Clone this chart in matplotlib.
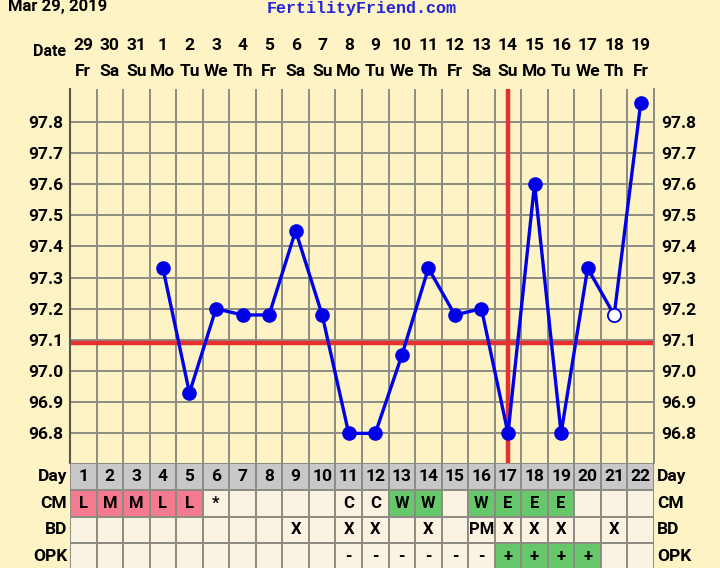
import matplotlib
matplotlib.use("Agg")
import matplotlib.pyplot as plt
from matplotlib.patches import Rectangle
from matplotlib.transforms import blended_transform_factory
import numpy as np

# ---- data ----
dates = [29, 30, 31, 1, 2, 3, 4, 5, 6, 7, 8, 9, 10, 11, 12, 13, 14, 15, 16, 17, 18, 19]
weekdays = ['Fr', 'Sa', 'Su', 'Mo', 'Tu', 'We', 'Th', 'Fr', 'Sa', 'Su', 'Mo',
            'Tu', 'We', 'Th', 'Fr', 'Sa', 'Su', 'Mo', 'Tu', 'We', 'Th', 'Fr']
cycle_days = list(range(1, 23))
temps = [np.nan, np.nan, np.nan, 97.33, 96.93, 97.20, 97.18, 97.18, 97.45, 97.18, 96.80,
         96.80, 97.05, 97.33, 97.18, 97.20, 96.80, 97.60, 96.80, 97.33, 97.18, 97.86]
open_point_day = 21
cm = ['L', 'M', 'M', 'L', 'L', '*', '', '', '', '', 'C', 'C', 'W', 'W', '', 'W', 'E', 'E', 'E', '', '', '']
bd = ['', '', '', '', '', '', '', '', 'X', '', 'X', 'X', '', 'X', '', 'PM', 'X', 'X', 'X', '', 'X', '']
opk = ['', '', '', '', '', '', '', '', '', '', '-', '-', '-', '-', '-', '-', '+', '+', '+', '+', '', '']
coverline = 97.09
ovulation_day = 17
yticks = [96.8, 96.9, 97.0, 97.1, 97.2, 97.3, 97.4, 97.5, 97.6, 97.7, 97.8]

# ---- style ----
BG = '#FDF3C4'
CELL = '#FBF3E1'
GRAY_ROW = '#C8C8C8'
PINK = '#F47B8F'
GREEN = '#66C76B'
GRID = '#8C8C84'
BLUE = '#0000E6'
RED = '#E8302F'
FONT = ['Liberation Sans Narrow', 'Roboto', 'DejaVu Sans']
plt.rcParams['font.family'] = FONT

W, H = 720, 568
fig = plt.figure(figsize=(W / 100, H / 100), dpi=100, facecolor=BG)

def fx(x):
    return x / W

def fy(y):
    return 1 - y / H

L, R, T, B = 70, 654, 89, 463.3
ax = fig.add_axes([fx(L), fy(B), fx(R - L), fy(T) - fy(B)])
ax.set_facecolor(BG)
n = len(cycle_days)
ax.set_xlim(0, n)
ax.set_ylim(96.704, 97.905)
for i in range(n + 1):
    ax.axvline(i, color=GRID, lw=1.4, zorder=1)
for v in yticks:
    ax.axhline(v, color=GRID, lw=1.4, zorder=1)
ax.set_xticks([])
ax.set_yticks(yticks)
ax.set_yticklabels([f'{v:.1f}' for v in yticks])
ax.tick_params(axis='y', length=0, labelleft=True, labelright=True, pad=5,
               labelsize=12.5)
for lab in ax.get_yticklabels():
    lab.set_fontweight('bold')
ax.spines['top'].set_visible(False)
ax.spines['bottom'].set_visible(False)
ax.spines['left'].set_color('#555555')
ax.spines['left'].set_linewidth(1.5)
ax.spines['right'].set_color(GRID)
ax.spines['right'].set_linewidth(1.4)

x = np.arange(n) + 0.5
ax.axhline(coverline, color=RED, lw=3.2, zorder=2)
ax.axvline(cycle_days.index(ovulation_day) + 0.5, color=RED, lw=3.2, zorder=2)
t = np.array(temps)
ax.plot(x, t, color=BLUE, lw=2.4, zorder=3)
filled = np.array([d != open_point_day for d in cycle_days])
ax.plot(x[filled], t[filled], 'o', color=BLUE, ms=9.5, zorder=4)
ax.plot(x[~filled], t[~filled], 'o', mfc='white', mec=BLUE, mew=1.3, ms=9.5, zorder=4)

# date header
tr = blended_transform_factory(ax.transData, fig.transFigure)
for i in range(n):
    ax.text(x[i], fy(45), str(dates[i]), transform=tr, ha='center', va='center',
            fontsize=12.5, fontweight='bold')
    ax.text(x[i], fy(71), weekdays[i], transform=tr, ha='center', va='center',
            fontsize=12.5, fontweight='bold')
fig.text(fx(50), fy(52), 'Date', ha='center', va='center', fontsize=11.5, fontweight='bold')
fig.text(fx(8), fy(7), 'Mar 29, 2019', ha='left', va='center', fontsize=12, fontweight='bold')
fig.text(fx(362), fy(8), 'FertilityFriend.com', ha='center', va='center', fontsize=12,
         fontweight='bold', color='#2323D8', family=['Liberation Mono', 'DejaVu Sans Mono'])

# table
rowh = 26.6
ax2 = fig.add_axes([fx(L), fy(B + 4 * rowh), fx(R - L), fy(B) - fy(B + 4 * rowh)])
ax2.set_xlim(0, n)
ax2.set_ylim(4, 0)
ax2.axis('off')
rows = [[str(d) for d in cycle_days], cm, bd, opk]
row_names = ['Day', 'CM', 'BD', 'OPK']
for r, vals in enumerate(rows):
    for i, v in enumerate(vals):
        if r == 0:
            c = GRAY_ROW
        elif r == 1 and v in ('L', 'M'):
            c = PINK
        elif r == 1 and v in ('W', 'E'):
            c = GREEN
        elif r == 3 and v == '+':
            c = GREEN
        else:
            c = CELL
        ax2.add_patch(Rectangle((i, r), 1, 1, facecolor=c, edgecolor=GRID, lw=1.4))
        if v:
            ax2.text(i + 0.5, r + 0.5, v, ha='center', va='center',
                     fontsize=12.5 if r == 0 else 12, fontweight='bold')
    fig.text(fx(67), fy(B + (r + 0.5) * rowh), row_names[r], ha='right', va='center',
             fontsize=12.5, fontweight='bold')
    fig.text(fx(657), fy(B + (r + 0.5) * rowh), row_names[r], ha='left', va='center',
             fontsize=12.5, fontweight='bold')

fig.savefig('out.png', dpi=100, facecolor=BG)
